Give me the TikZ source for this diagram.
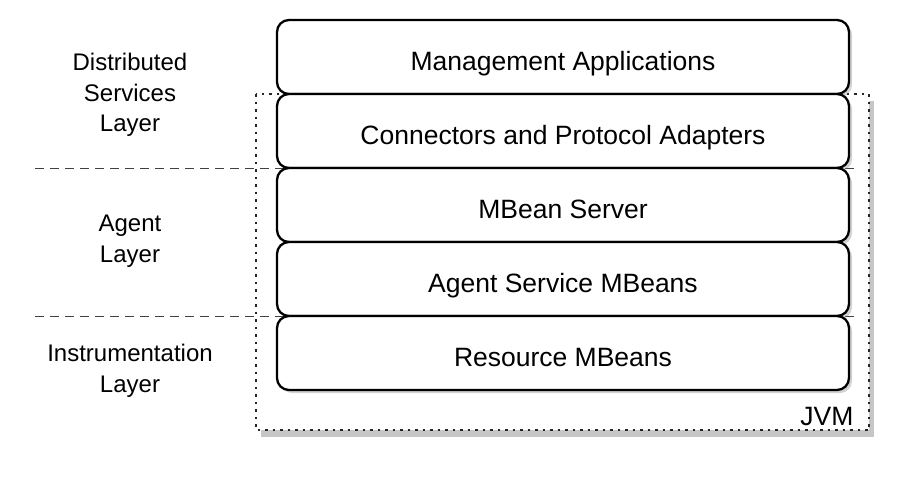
\documentclass[tikz,border=0pt]{standalone}
\usepackage{fontspec}
\setmainfont{Liberation Sans}
\usetikzlibrary{positioning,shadows}

\tikzset{
  layerbox/.style={draw, line width=2.3pt, fill=white, rounded corners=12pt,
    minimum width=572pt, minimum height=74pt, outer sep=0pt,
    text height=27pt, text depth=0pt,
    font=\fontsize{26.5}{30}\selectfont,
    drop shadow={opacity=0.35, shadow xshift=3pt, shadow yshift=-3pt}},
  layername/.style={align=center, font=\fontsize{24}{30.5}\selectfont},
  divider/.style={dashed, dash pattern=on 9pt off 6pt, line width=1pt, black!75}
}

\begin{document}
\begin{tikzpicture}[x=1pt, y=-1pt, node distance=0pt]
    \useasboundingbox (0,0) rectangle (900,480);

    % JVM
    \draw[dash pattern=on 2.5pt off 5pt, line width=2pt, black!85, fill=white,
      drop shadow={opacity=0.45, shadow xshift=5pt, shadow yshift=-7pt}]
      (256,94) rectangle (869,430);
    \node[anchor=south east, font=\fontsize{26.5}{30}\selectfont] (jvm) at (857,429) {JVM};

    % Trennlinien
    \draw[divider] (35,168) -- (856,168);
    \draw[divider] (35,316) -- (856,316);

    % Schichten
    \node[layerbox] (mgmt) at (563,57) {Management Applications};
    \node[layerbox, below=of mgmt] (conn) {Connectors and Protocol Adapters};
    \node[layerbox, below=of conn] (server) {MBean Server};
    \node[layerbox, below=of server] (agentsvc) {Agent Service MBeans};
    \node[layerbox, below=of agentsvc] (resource) {Resource MBeans};

    % Beschriftungen links
    \node[layername] (distlabel) at (130,95) {Distributed\\Services\\Layer};
    \node[layername] (agentlabel) at (130,241) {Agent\\Layer};
    \node[layername] (instlabel) at (130,371) {Instrumentation\\Layer};
\end{tikzpicture}
\end{document}
